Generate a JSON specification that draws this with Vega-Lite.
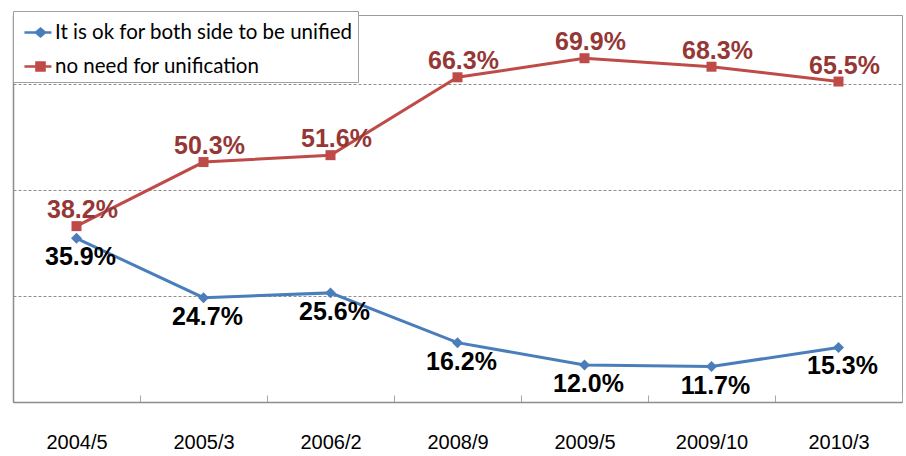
{
  "$schema": "https://vega.github.io/schema/vega-lite/v6.json",
  "width": 889,
  "height": 387,
  "autosize": {"type": "none"},
  "padding": {"left": 13, "top": 15, "right": 4, "bottom": 54},
  "background": "white",
  "config": {
    "view": {"stroke": "#9a9a9a", "strokeWidth": 1},
    "font": "Liberation Sans"
  },
  "data": {
    "values": [
      {"period": "2004/5", "series": "It is ok for both side to be unified", "value": 35.9},
      {"period": "2005/3", "series": "It is ok for both side to be unified", "value": 24.7},
      {"period": "2006/2", "series": "It is ok for both side to be unified", "value": 25.6},
      {"period": "2008/9", "series": "It is ok for both side to be unified", "value": 16.2},
      {"period": "2009/5", "series": "It is ok for both side to be unified", "value": 12.0},
      {"period": "2009/10", "series": "It is ok for both side to be unified", "value": 11.7},
      {"period": "2010/3", "series": "It is ok for both side to be unified", "value": 15.3},
      {"period": "2004/5", "series": "no need for unification", "value": 38.2},
      {"period": "2005/3", "series": "no need for unification", "value": 50.3},
      {"period": "2006/2", "series": "no need for unification", "value": 51.6},
      {"period": "2008/9", "series": "no need for unification", "value": 66.3},
      {"period": "2009/5", "series": "no need for unification", "value": 69.9},
      {"period": "2009/10", "series": "no need for unification", "value": 68.3},
      {"period": "2010/3", "series": "no need for unification", "value": 65.5}
    ]
  },
  "encoding": {
    "x": {
      "field": "period",
      "type": "nominal",
      "sort": null,
      "scale": {"type": "band", "paddingInner": 0, "paddingOuter": 0},
      "axis": {
        "title": null,
        "labelAngle": 0,
        "labelFont": "Liberation Sans",
        "labelFontSize": 20,
        "labelColor": "#000000",
        "labelPadding": 37,
        "domainColor": "#8c8c8c",
        "domainWidth": 1.5,
        "tickBand": "extent",
        "tickSize": -7,
        "tickColor": "#a6a6a6",
        "tickWidth": 1,
        "grid": false
      }
    },
    "y": {
      "field": "value",
      "type": "quantitative",
      "scale": {"domain": [5, 78.06], "nice": false, "zero": false},
      "axis": {
        "title": null,
        "labels": false,
        "ticks": false,
        "values": [25, 45, 65],
        "grid": true,
        "gridColor": "#8f8f8f",
        "gridDash": [3, 2],
        "gridWidth": 1,
        "domainColor": "#8c8c8c",
        "domainWidth": 1.5
      }
    }
  },
  "layer": [
    {
      "mark": {"type": "line", "strokeWidth": 3},
      "encoding": {
        "color": {
          "field": "series",
          "type": "nominal",
          "sort": null,
          "scale": {"domain": ["It is ok for both side to be unified", "no need for unification"], "range": ["#4a7ebb", "#be4b48"]},
          "legend": {
            "title": null,
            "orient": "none",
            "legendX": 0,
            "legendY": -4,
            "direction": "vertical",
            "fillColor": "white",
            "strokeColor": "#a0a0a0",
            "padding": 5,
            "rowPadding": 7,
            "symbolSize": 900,
            "symbolStrokeWidth": 2.5,
            "labelFont": "Lato",
            "labelFontSize": 20.5,
            "labelColor": "#000000",
            "labelLimit": 400,
            "labelOffset": 4,
            "encode": {
              "symbols": {
                "update": {
                  "shape": {"signal": "datum.value === 'no need for unification' ? 'M-0.67,0L1.13,0M0.13,-0.27L0.67,-0.27L0.67,0.27L0.13,0.27Z' : 'M-0.67,0L1.13,0M0.1,0L0.4,-0.25L0.7,0L0.4,0.25Z'"},
                  "fill": {"scale": "color", "field": "value"},
                  "stroke": {"scale": "color", "field": "value"},
                  "strokeWidth": {"value": 2.5},
                  "opacity": {"value": 1}
                }
              }
            }
          }
        }
      }
    },
    {
      "transform": [{"filter": "datum.series === 'It is ok for both side to be unified'"}],
      "mark": {"type": "point", "filled": true, "opacity": 1, "shape": "diamond", "size": 120, "color": "#4a7ebb"}
    },
    {
      "transform": [{"filter": "datum.series === 'no need for unification'"}],
      "mark": {"type": "point", "filled": true, "opacity": 1, "shape": "square", "size": 100, "color": "#be4b48"}
    },
    {
      "transform": [
        {"filter": "datum.series === 'It is ok for both side to be unified'"},
        {"calculate": "format(datum.value, '.1f') + '%'", "as": "label"}
      ],
      "mark": {"type": "text", "font": "Liberation Sans", "fontWeight": "bold", "fontSize": 25, "dy": 19, "dx": 4, "color": "#000000"},
      "encoding": {
        "text": {"field": "label", "type": "nominal"}
      }
    },
    {
      "transform": [
        {"filter": "datum.series === 'no need for unification'"},
        {"calculate": "format(datum.value, '.1f') + '%'", "as": "label"}
      ],
      "mark": {"type": "text", "font": "Liberation Sans", "fontWeight": "bold", "fontSize": 25, "dy": -16, "dx": 6, "color": "#953735"},
      "encoding": {
        "text": {"field": "label", "type": "nominal"}
      }
    }
  ]
}
